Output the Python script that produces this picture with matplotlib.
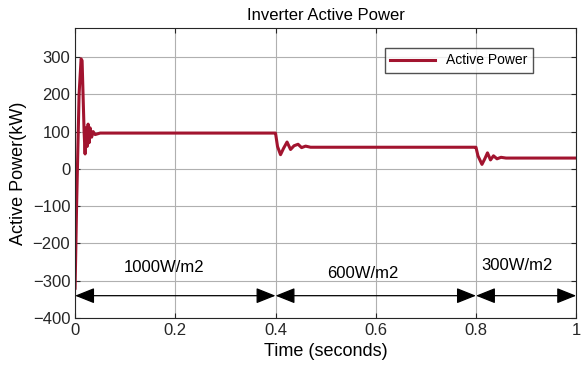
import matplotlib.pyplot as plt

plt.rcParams['font.family'] = ['Liberation Sans', 'DejaVu Sans']

# key points of the simulated active power trace (time s, power kW)
t_pts = [0, 0.003, 0.008, 0.012, 0.014, 0.018, 0.020, 0.022, 0.024, 0.026, 0.028,
         0.030, 0.033, 0.036, 0.040, 0.050, 0.399,
         0.400, 0.404, 0.410, 0.416, 0.423, 0.430, 0.437, 0.445, 0.452, 0.460, 0.470, 0.799,
         0.800, 0.804, 0.812, 0.818, 0.823, 0.829, 0.835, 0.842, 0.850, 0.860, 1.0]
p_pts = [-320, -100, 200, 295, 290, 100, 40, 110, 60, 120, 70,
         110, 85, 100, 92, 96, 96,
         96, 60, 38, 55, 72, 52, 62, 66, 57, 61, 58, 58,
         58, 35, 12, 28, 43, 24, 35, 27, 31, 29, 29]

regions = ["1000W/m2", "600W/m2", "300W/m2"]
region_edges = [0, 0.4, 0.8, 1.0]
label_x = [0.098, 0.503, 0.81]
label_y = [-265, -280, -260]

fig, ax = plt.subplots(figsize=(5.82, 3.72), dpi=100)
fig.subplots_adjust(left=0.129, right=0.99, bottom=0.145, top=0.925)

ax.plot(t_pts, p_pts, color='#a2142f', lw=2.2, label='Active Power')

for i in range(len(regions)):
    ax.annotate('', xy=(region_edges[i], -340), xytext=(region_edges[i + 1], -340),
                arrowprops=dict(arrowstyle='<|-|>,head_length=1.0,head_width=0.4',
                                color='k', lw=0.9, mutation_scale=12,
                                shrinkA=0, shrinkB=0))
    ax.text(label_x[i], label_y[i], regions[i], fontsize=12, va='center')

ax.set_xlim(0, 1)
ax.set_ylim(-400, 378)
ax.set_xticks([0, 0.2, 0.4, 0.6, 0.8, 1])
ax.set_xticklabels(['0', '0.2', '0.4', '0.6', '0.8', '1'])
ax.set_yticks(range(-400, 301, 100))
ax.grid(True, color='#b0b0b0', lw=0.8)
ax.tick_params(labelsize=12, colors='#262626', direction='in', top=True, right=True)
for s in ax.spines.values():
    s.set_color('#262626')
ax.set_title('Inverter Active Power', fontsize=12)
ax.set_xlabel('Time (seconds)', fontsize=13)
ax.set_ylabel('Active Power(kW)', fontsize=13)
ax.legend(loc='upper right', bbox_to_anchor=(0.927, 0.955), fancybox=False,
          edgecolor='#262626', fontsize=10, handlelength=3.2, borderpad=0.4)

plt.savefig('out.png')
